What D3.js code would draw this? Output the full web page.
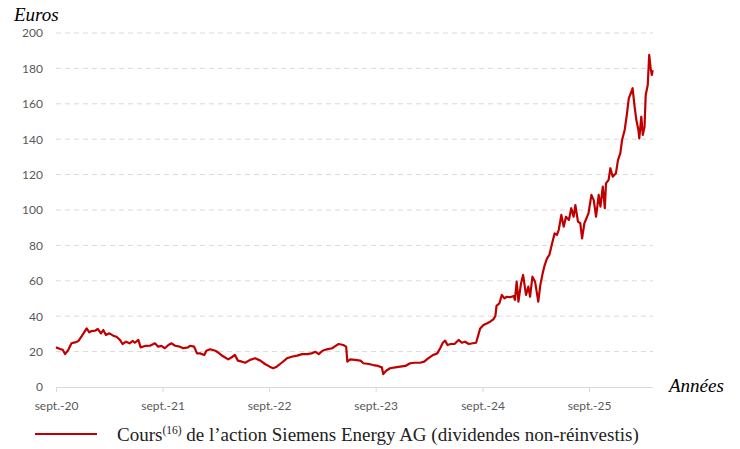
<!DOCTYPE html>
<html>
<head>
<meta charset="utf-8">
<script src="https://cdn.jsdelivr.net/npm/d3@7"></script>
<style>
  body { margin: 0; background: #fff; }
  svg { display: block; }
</style>
</head>
<body>
<svg id="chart"></svg>
<script>
// Cours de l'action Siemens Energy AG
const dates = [
  "2020-09-28","2020-10-12","2020-10-21","2020-10-29","2020-11-09","2020-11-20","2020-12-02","2020-12-14","2020-12-24",
  "2021-01-05","2021-01-11","2021-01-20","2021-01-28","2021-02-09","2021-02-18","2021-03-01","2021-03-09","2021-03-18",
  "2021-03-30","2021-04-12","2021-04-23","2021-05-05","2021-05-14","2021-05-26","2021-06-07","2021-06-18","2021-06-25",
  "2021-07-07","2021-07-15","2021-07-30","2021-08-16","2021-09-02","2021-09-13","2021-09-24","2021-10-06","2021-10-18",
  "2021-10-29","2021-11-10","2021-11-26","2021-12-08","2021-12-24","2021-12-31","2022-01-14","2022-01-24","2022-02-03",
  "2022-02-18","2022-02-25","2022-03-10","2022-03-28","2022-04-07","2022-04-22","2022-05-11","2022-05-23","2022-06-03",
  "2022-06-13","2022-06-27","2022-07-08","2022-07-25","2022-08-11","2022-08-29","2022-09-14","2022-09-30","2022-10-12",
  "2022-10-24","2022-11-10","2022-11-28","2022-12-14","2023-01-02","2023-01-19","2023-02-06","2023-02-20","2023-03-06",
  "2023-03-17","2023-03-30","2023-04-14","2023-05-02","2023-05-10","2023-05-24","2023-06-09","2023-06-19","2023-06-23",
  "2023-07-03","2023-07-19","2023-08-07","2023-08-17","2023-09-04","2023-09-20","2023-10-06","2023-10-19","2023-10-24",
  "2023-11-03","2023-11-16","2023-12-04","2023-12-21","2024-01-08","2024-01-24","2024-02-09","2024-02-27","2024-03-12",
  "2024-03-26","2024-04-12","2024-04-26","2024-05-06","2024-05-15","2024-05-23","2024-05-31","2024-06-11","2024-06-24",
  "2024-07-08","2024-07-19","2024-07-30","2024-08-12","2024-08-26","2024-09-06","2024-09-12","2024-09-20","2024-10-01",
  "2024-10-14","2024-10-24","2024-11-04","2024-11-11","2024-11-15","2024-11-25","2024-12-03","2024-12-12","2024-12-20",
  "2024-12-31","2025-01-13","2025-01-17","2025-01-23","2025-01-29","2025-02-07","2025-02-14","2025-02-24","2025-03-04",
  "2025-03-10","2025-03-18","2025-03-27","2025-04-07","2025-04-14","2025-04-22","2025-04-29","2025-05-07","2025-05-15",
  "2025-05-23","2025-06-02","2025-06-10","2025-06-16","2025-06-25","2025-07-03","2025-07-11","2025-07-21","2025-07-29",
  "2025-08-06","2025-08-12","2025-08-21","2025-08-29","2025-09-04","2025-09-12","2025-09-26","2025-10-06","2025-10-14",
  "2025-10-22","2025-10-31","2025-11-06","2025-11-14","2025-11-21","2025-11-25","2025-12-04","2025-12-10","2025-12-18",
  "2025-12-29","2026-01-05","2026-01-13","2026-01-19","2026-01-28","2026-02-05","2026-02-11","2026-02-20","2026-02-24",
  "2026-03-03","2026-03-09","2026-03-16","2026-03-19","2026-03-26","2026-03-31","2026-04-06","2026-04-10","2026-04-17",
  "2026-04-22","2026-04-27","2026-05-01","2026-05-04"
];
const prices = [
  22.4,21.5,21.0,18.6,20.9,24.7,25.2,26.0,28.4,
  31.6,33.1,30.9,31.6,31.8,32.8,30.3,32.2,29.4,
  30.3,29.0,28.4,26.6,24.3,25.6,24.7,26.0,25.0,
  26.6,22.4,23.2,23.3,24.7,22.8,23.2,21.9,23.7,
  24.7,23.3,22.8,21.9,22.4,23.3,22.8,19.0,19.0,
  18.1,20.5,21.3,20.5,19.4,17.5,15.6,16.8,18.1,
  14.9,14.3,13.7,15.3,16.2,14.9,13.0,11.5,10.6,
  11.5,13.7,16.2,17.1,17.7,18.6,18.6,19.0,19.9,
  18.6,20.5,21.3,21.9,22.8,24.3,23.7,22.8,14.3,
  15.6,15.3,14.9,13.4,13.0,12.4,11.9,11.1,7.3,
  9.2,10.6,11.1,11.5,11.9,13.4,13.7,13.7,14.3,
  16.2,18.1,19.0,21.9,25.0,26.2,23.7,24.3,24.3,
  26.6,25.0,25.6,24.3,24.7,25.0,28.4,33.1,35.0,
  36.0,36.9,38.2,40.1,45.8,47.3,52.0,50.1,51.0,
  50.7,51.4,49.2,59.5,48.2,58.6,63.3,52.0,56.7,
  51.0,62.3,59.5,48.2,57.6,64.2,68.9,72.7,74.6,
  80.2,86.8,85.9,88.7,97.2,90.6,96.2,94.4,101.0,
  96.2,102.8,93.4,92.5,84.0,92.5,98.1,108.5,105.6,
  96.2,108.5,101.9,113.2,101.0,115.0,117.0,123.6,118.8,
  120.7,128.2,132.0,139.5,145.2,154.6,163.1,166.8,168.8,
  158.4,150.8,145.2,140.5,152.7,142.4,147.1,165.0,170.6,
  187.6,180.0,176.3,179.0
];
const yTicks = [0, 20, 40, 60, 80, 100, 120, 140, 160, 180, 200];
const xTicks = ["2020-09-28","2021-09-28","2022-09-28","2023-09-28","2024-09-28","2025-09-28"];

const width = 740, height = 449;
const margin = { top: 33, right: 87, bottom: 62, left: 56 };

const parse = d3.timeParse("%Y-%m-%d");
const data = dates.map((d, i) => ({ date: parse(d), value: prices[i] }));

const svg = d3.select("#chart").attr("width", width).attr("height", height);

const x = d3.scaleTime()
  .domain([parse("2020-09-28"), parse("2026-05-05")])
  .range([margin.left, width - margin.right]);
const y = d3.scaleLinear()
  .domain([0, 200])
  .range([height - margin.bottom, margin.top]);

const labelFont = "Lato, 'Open Sans', sans-serif";

// grille horizontale
svg.append("g")
  .selectAll("line")
  .data(yTicks.filter(d => d > 0))
  .enter().append("line")
  .attr("x1", x.range()[0])
  .attr("x2", x.range()[1])
  .attr("y1", d => y(d))
  .attr("y2", d => y(d))
  .attr("stroke", "#d9d9d9")
  .attr("stroke-width", 1)
  .attr("stroke-dasharray", "5,4");

// axe Y (labels seuls)
const yAxis = svg.append("g")
  .attr("transform", `translate(${margin.left},0)`)
  .call(d3.axisLeft(y).tickValues(yTicks).tickSize(0).tickPadding(13));
yAxis.select(".domain").remove();
yAxis.selectAll("text")
  .attr("fill", "#595959")
  .style("font-family", labelFont)
  .style("font-size", "12px");

// axe X
const xAxis = svg.append("g")
  .attr("transform", `translate(0,${y(0)})`)
  .call(d3.axisBottom(x)
    .tickValues(xTicks.map(parse))
    .tickSize(5)
    .tickPadding(9)
    .tickFormat(d => "sept.-" + d3.timeFormat("%y")(d)));
xAxis.select(".domain")
  .attr("stroke", "#d9d9d9")
  .attr("d", `M${x.range()[0]},0.5H${x.range()[1]}`);
xAxis.selectAll(".tick line").attr("stroke", "#d9d9d9");
xAxis.selectAll("text")
  .attr("fill", "#595959")
  .style("font-family", labelFont)
  .style("font-size", "12px");

// courbe
const line = d3.line()
  .x(d => x(d.date))
  .y(d => y(d.value));

svg.append("path")
  .datum(data)
  .attr("fill", "none")
  .attr("stroke", "#c00000")
  .attr("stroke-width", 2.2)
  .attr("stroke-linejoin", "round")
  .attr("d", line);

// titres d'axes
const serif = "'Liberation Serif', 'DejaVu Serif', serif";
svg.append("text")
  .attr("x", 14).attr("y", 21)
  .style("font-family", serif)
  .style("font-style", "italic")
  .style("font-size", "19px")
  .attr("fill", "#000")
  .text("Euros");

svg.append("text")
  .attr("x", 669).attr("y", 392)
  .style("font-family", serif)
  .style("font-style", "italic")
  .style("font-size", "19px")
  .attr("fill", "#000")
  .text("Années");

// légende
svg.append("line")
  .attr("x1", 35).attr("x2", 97)
  .attr("y1", 434).attr("y2", 434)
  .attr("stroke", "#c00000")
  .attr("stroke-width", 2);

const legend = svg.append("text")
  .attr("x", 117).attr("y", 441)
  .style("font-family", serif)
  .style("font-size", "19px")
  .attr("fill", "#222");
legend.append("tspan").text("Cours");
legend.append("tspan").attr("dy", -7).style("font-size", "11.5px").text("(16)");
legend.append("tspan").attr("dy", 7).text(" de l\u2019action Siemens Energy AG (dividendes non-réinvestis)");
</script>
</body>
</html>
